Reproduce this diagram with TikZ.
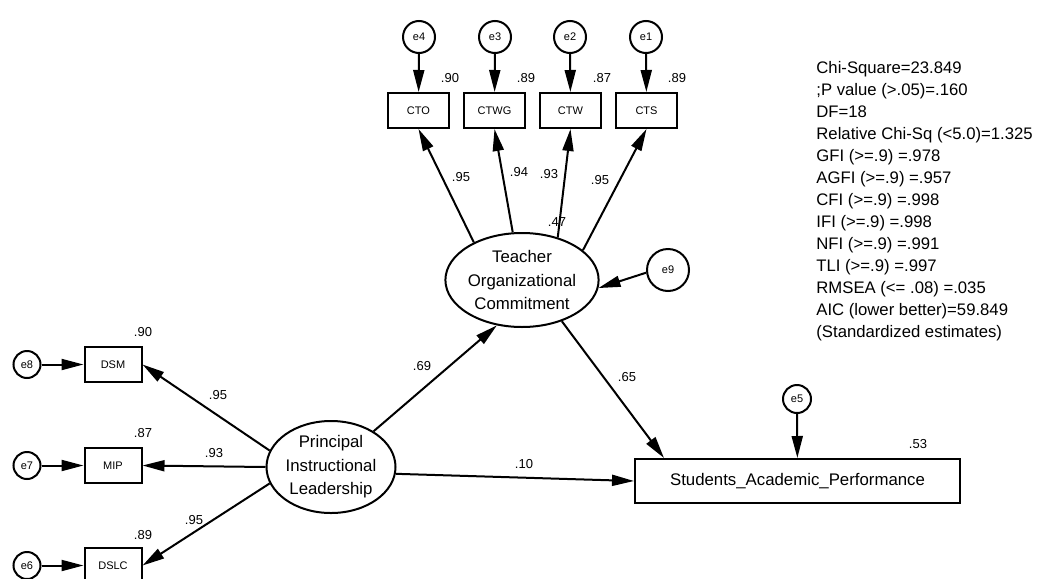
\documentclass[tikz,border=0pt]{standalone}
\usepackage{fontspec}
\setmainfont{Liberation Sans}
\usetikzlibrary{arrows.meta,shapes.geometric}

\tikzset{
  obs/.style={draw, line width=1pt, rectangle, inner sep=0pt, minimum width=30.5pt, minimum height=17.5pt, font=\fontsize{5.5}{6.5}\selectfont},
  lat/.style={draw, line width=1pt, ellipse, inner sep=0pt, align=center, font=\fontsize{8.4}{11.75}\selectfont},
  err/.style={draw, line width=1pt, circle, inner sep=0pt, minimum size=16pt, font=\fontsize{5.5}{6.5}\selectfont},
  num/.style={inner sep=0pt, font=\fontsize{6.5}{7.5}\selectfont},
  arr/.style={-{Triangle[length=11pt,width=5.5pt]}, line width=1pt},
}

\begin{document}
\begin{tikzpicture}[x=0.5pt,y=-0.5pt]
            \useasboundingbox (0,0) rectangle (1037,578);

            % teacher commitment indicators
            \node[err] (e4) at (419,37) {e4};
            \node[err] (e3) at (495,37) {e3};
            \node[err] (e2) at (570,37) {e2};
            \node[err] (e1) at (646,37) {e1};
            \node[obs] (CTO) at (418.5,110.5) {CTO};
            \node[obs] (CTWG) at (494.5,110.5) {CTWG};
            \node[obs] (CTW) at (570.5,110.5) {CTW};
            \node[obs] (CTS) at (646.5,110.5) {CTS};
            \node[num] (rCTO) at (450,78) {.90};
            \node[num] (rCTWG) at (526,78) {.89};
            \node[num] (rCTW) at (602,78) {.87};
            \node[num] (rCTS) at (677,78) {.89};

            \node[lat, minimum width=66pt, minimum height=47pt] (TOC) at (522,280) {Teacher\\Organizational\\Commitment};
            \node[err, minimum size=21pt] (e9) at (668,270) {e9};
            \node[num] (rTOC) at (557,222) {.47};

            % principal leadership indicators
            \node[lat, minimum width=64.5pt, minimum height=46pt] (PIL) at (331,467) {Principal\\Instructional\\Leadership};
            \node[obs, minimum width=28.5pt] (DSM) at (113,364.5) {DSM};
            \node[obs, minimum width=28.5pt] (MIP) at (113,465.5) {MIP};
            \node[obs, minimum width=28.5pt] (DSLC) at (113,565.5) {DSLC};
            \node[err, minimum size=13.5pt] (e8) at (27,364.5) {e8};
            \node[err, minimum size=13.5pt] (e7) at (27,465.5) {e7};
            \node[err, minimum size=13.5pt] (e6) at (27,565.5) {e6};
            \node[num] (rDSM) at (143,332) {.90};
            \node[num] (rMIP) at (143,433) {.87};
            \node[num] (rDSLC) at (143,535) {.89};

            \node[obs, minimum width=162.5pt, minimum height=22pt, font=\fontsize{8.4}{10}\selectfont] (SAP) at (797.5,481) {Students\_Academic\_Performance};
            \node[err, minimum size=14pt] (e5) at (797,399) {e5};
            \node[num] (rSAP) at (918,444) {.53};

            \draw[arr] (e4) -- (CTO);
            \draw[arr] (e3) -- (CTWG);
            \draw[arr] (e2) -- (CTW);
            \draw[arr] (e1) -- (CTS);
            \draw[arr] (TOC.142) -- (CTO.south) node[num] (w1) at (461,177) {.95};
            \draw[arr] (TOC.101) -- (CTWG.south) node[num] (w2) at (519,172) {.94};
            \draw[arr] (TOC.50) -- (CTW.south) node[num] (w3) at (549,174) {.93};
            \draw[arr] (TOC.26) -- (CTS.south) node[num] (w4) at (600,180) {.95};
            \draw[arr] (e9.187) -- (TOC.-6);

            \draw[arr] (e8) -- (DSM);
            \draw[arr] (e7) -- (MIP);
            \draw[arr] (e6) -- (DSLC);
            \draw[arr] (PIL.165) -- (DSM.east) node[num] (w5) at (218,395) {.95};
            \draw[arr] (PIL.west) -- (MIP.east) node[num] (w6) at (214,453) {.93};
            \draw[arr] (PIL.195) -- (DSLC.east) node[num] (w7) at (194,520) {.95};

            \draw[arr] (PIL.40) -- (TOC.241) node[num] (w8) at (422,366) {.69};
            \draw[arr] (PIL.-6) -- (SAP.west) node[num] (w9) at (524,464) {.10};
            \draw[arr] (TOC.-46) -- ([xshift=15pt]SAP.north west) node[num] (w10) at (627,377) {.65};
            \draw[arr] (e5) -- (SAP);

            % fit indices
            \node[anchor=north west, inner sep=0pt, align=left, font=\fontsize{8.35}{11}\selectfont] (fit) at (816,61) {Chi-Square=23.849\\;P value (>.05)=.160\\DF=18\\Relative Chi-Sq (<5.0)=1.325\\GFI (>=.9) =.978\\AGFI (>=.9) =.957\\CFI (>=.9) =.998\\IFI (>=.9) =.998\\NFI (>=.9) =.991\\TLI (>=.9) =.997\\RMSEA (<= .08) =.035\\AIC (lower better)=59.849\\(Standardized estimates)};
        \end{tikzpicture}
\end{document}
